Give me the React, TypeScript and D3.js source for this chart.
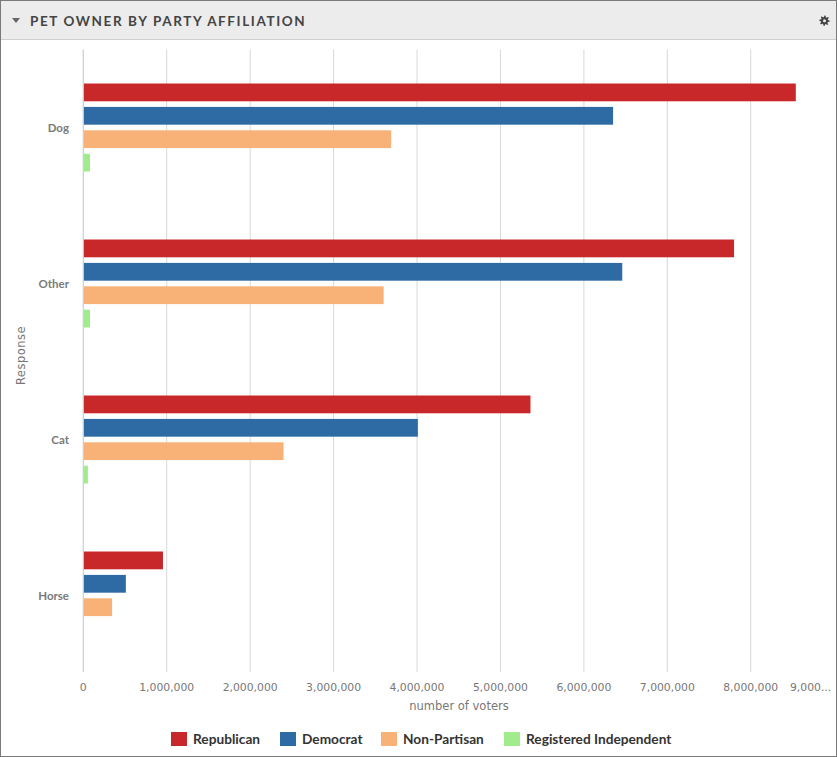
import React from "react";
import * as d3 from "d3";

const categories = ["Dog", "Other", "Cat", "Horse"];
const seriesNames = ["Republican", "Democrat", "Non-Partisan", "Registered Independent"];
const republican = [8540000, 7800000, 5360000, 955000];
const democrat = [6350000, 6460000, 4010000, 510000];
const nonPartisan = [3690000, 3600000, 2400000, 345000];
const independent = [80000, 80000, 55000, 0];
const xTicks = [0, 1000000, 2000000, 3000000, 4000000, 5000000, 6000000, 7000000, 8000000];
const colors = ["#c9282a", "#2e6ba4", "#f8b176", "#a0ec8d"];

const W = 837;
const H = 757;
const FONT = "Lato, 'Open Sans', sans-serif";
const FONT2 = "'DejaVu Sans', Verdana, sans-serif";

function gearPath(cx: number, cy: number, rOut: number, rIn: number, teeth: number) {
  const pts: string[] = [];
  const n = teeth * 4;
  for (let i = 0; i < n; i++) {
    const a = (i / n) * Math.PI * 2;
    const r = i % 4 < 2 ? rOut : rIn;
    pts.push(`${cx + r * Math.cos(a)},${cy + r * Math.sin(a)}`);
  }
  return "M" + pts.join("L") + "Z";
}

export default function App() {
  const series = [republican, democrat, nonPartisan, independent];
  const left = 83.3;
  const pxPerM = 83.43;
  const x = d3.scaleLinear().domain([0, 1000000]).range([left, left + pxPerM]);
  const top = 49.5;
  const bottom = 673.5;
  const y0 = d3.scaleBand<string>().domain(categories).range([top, bottom]).paddingInner(0.4).paddingOuter(0.2);
  const y1 = d3.scaleBand<number>().domain([0, 1, 2, 3]).range([0, y0.bandwidth()]).paddingInner(0.24).paddingOuter(0.12);
  const fmt = d3.format(",");

  const legendX = [171, 280, 381, 504];

  return (
    <svg width={W} height={H} style={{ position: "absolute", left: 0, top: 0, display: "block" }} fontFamily={FONT}>
      <rect x={0} y={0} width={W} height={H} fill="#fff" />
      {/* header */}
      <rect x={0} y={0} width={W} height={40} fill="#ececec" />
      <line x1={0} x2={W} y1={39.5} y2={39.5} stroke="#cfcfcf" />
      <rect x={0.5} y={0.5} width={W - 1} height={H - 1} fill="none" stroke="#7a7a7a" />
      <path d="M12,18 L20,18 L16,23 Z" fill="#666" />
      <text x={30} y={26} fontSize={13.5} fontWeight={700} fill="#444" letterSpacing={1.6}>
        PET OWNER BY PARTY AFFILIATION
      </text>
      <path d={gearPath(824.5, 20.7, 5.2, 3.6, 8)} fill="#444" />
      <circle cx={824.5} cy={20.7} r={1.5} fill="#ececec" />

      {/* gridlines */}
      {xTicks.filter((t) => t > 0).map((t) => (
        <line key={t} x1={x(t)} x2={x(t)} y1={top} y2={672} stroke="#d8d8d8" strokeWidth={1} />
      ))}

      {/* bars */}
      {categories.map((c, ci) => (
        <g key={c} transform={`translate(0,${y0(c)})`}>
          {series.map((s, si) =>
            s[ci] > 0 ? (
              <rect key={si} x={x(0)} y={y1(si)} width={x(s[ci]) - x(0)} height={y1.bandwidth()} fill={colors[si]} />
            ) : null
          )}
        </g>
      ))}

      {/* y axis line */}
      <line x1={x(0)} x2={x(0)} y1={top} y2={672} stroke="#c4d0dc" strokeWidth={1.2} />

      {/* y labels */}
      {categories.map((c) => (
        <text key={c} x={69} y={(y0(c) as number) + y0.bandwidth() / 2 + 4} textAnchor="end" fontSize={11.5} fontWeight={700} fill="#7a7a7a">
          {c}
        </text>
      ))}
      <text transform="translate(25,355.5) rotate(-90)" textAnchor="middle" fontSize={11.5} fill="#777" fontFamily={FONT2} letterSpacing={0.5}>
        Response
      </text>

      {/* x tick labels */}
      {xTicks.map((t) => (
        <text key={t} x={x(t)} y={691} textAnchor="middle" fontSize={10.8} fill="#777" fontFamily={FONT2}>
          {fmt(t)}
        </text>
      ))}
      <text x={790} y={691} textAnchor="start" fontSize={10.8} fill="#777" fontFamily={FONT2}>
        9,000...
      </text>
      <text x={459} y={710} textAnchor="middle" fontSize={11.5} fill="#777" fontFamily={FONT2}>
        number of voters
      </text>

      {/* legend */}
      {seriesNames.map((n, i) => (
        <g key={n} transform={`translate(${legendX[i]},732)`}>
          <rect x={0} y={0} width={16} height={14} fill={colors[i]} />
          <text x={22} y={11.8} fontSize={13.7} fontWeight={700} fill="#333">
            {n}
          </text>
        </g>
      ))}
    </svg>
  );
}
